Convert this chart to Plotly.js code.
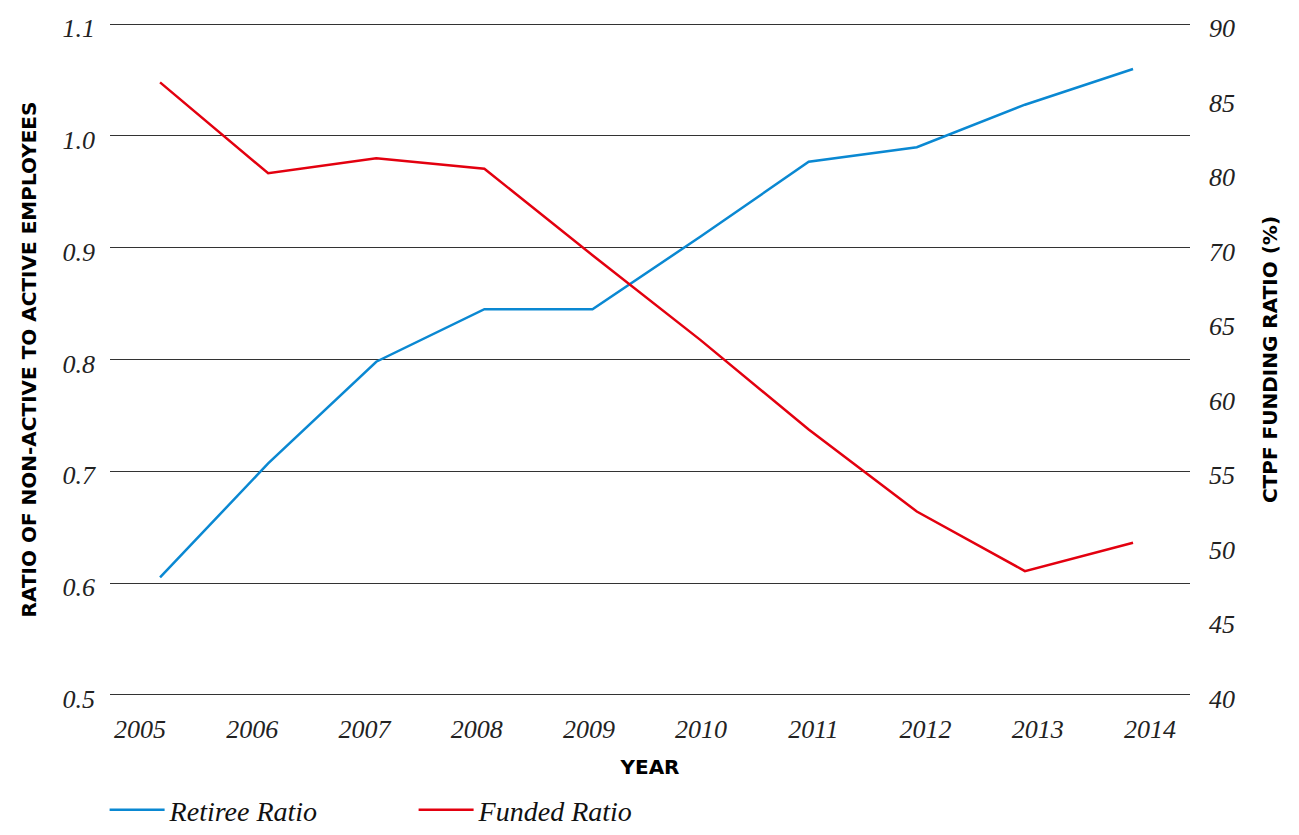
<!DOCTYPE html>
<html>
<head>
<meta charset="utf-8">
<script src="https://cdn.plot.ly/plotly-3.0.1.min.js"></script>
<style>html,body{margin:0;padding:0;background:#fff;}#chart{width:1299px;height:835px;}</style>
</head>
<body>
<div id="chart"></div>
<script>
const years = [2005, 2006, 2007, 2008, 2009, 2010, 2011, 2012, 2013, 2014];
const retireeRatio = [0.605, 0.707, 0.798, 0.845, 0.845, 0.910, 0.977, 0.990, 1.028, 1.060];
// funded ratio in right-axis position units (ticks evenly spaced, as printed)
const fundedRatio = [81.1, 75.0, 76.0, 75.3, 69.5, 63.8, 57.8, 52.3, 48.3, 50.2];
const leftTicks = [0.5, 0.6, 0.7, 0.8, 0.9, 1.0, 1.1];
const rightTickVals = [40, 45, 50, 55, 60, 65, 70, 75, 80, 85];
const rightTickText = ['40', '45', '50', '55', '60', '65', '70', '80', '85', '90'];

const serif = 'Liberation Serif, serif';
const sans = 'DejaVu Sans, sans-serif';

const traces = [
  {x: years, y: retireeRatio, name: 'Retiree Ratio', type: 'scatter', mode: 'lines',
   line: {color: '#0a88d2', width: 2.5}, xaxis: 'x', yaxis: 'y'},
  {x: years, y: fundedRatio, name: 'Funded Ratio', type: 'scatter', mode: 'lines',
   line: {color: '#e3000f', width: 2.5}, xaxis: 'x', yaxis: 'y2'},
  // empty helper trace so the tick-label axis (x2) is drawn
  {x: years, y: years.map(() => null), type: 'scatter', mode: 'lines', showlegend: false,
   hoverinfo: 'skip', xaxis: 'x2', yaxis: 'y'}
];

const tickFont = {family: serif, size: 26, color: '#222', style: 'italic'};
const titleFont = {family: sans, size: 20, color: '#000', weight: 'bold'};

const layout = {
  width: 1299, height: 835,
  margin: {l: 110, r: 109, t: 22, b: 138},
  paper_bgcolor: '#fff', plot_bgcolor: '#fff',
  showlegend: true,
  legend: {orientation: 'h', x: -0.005, xanchor: 'left', yref: 'container', y: 0.03, yanchor: 'middle',
           font: {family: serif, size: 28, color: '#111', style: 'italic'},
           entrywidth: 239, entrywidthmode: 'pixels', itemwidth: 55},
  xaxis: {range: [2004.537, 2014.527], showticklabels: false, showgrid: false,
          zeroline: false, showline: false, ticks: '', fixedrange: true},
  xaxis2: {overlaying: 'x', anchor: 'y', side: 'bottom', range: [2004.733, 2014.356],
           tickvals: years, ticktext: years.map(String), tickfont: tickFont,
           showgrid: false, zeroline: false, showline: false, ticks: '', ticklabelstandoff: 14,
           title: {text: 'YEAR', font: titleFont, standoff: 16}},
  yaxis: {range: [0.498, 1.102], tickvals: leftTicks, tickformat: '.1f', tickfont: tickFont,
          showgrid: true, gridcolor: '#333', gridwidth: 1, zeroline: false, showline: false,
          ticks: '', ticklabelstandoff: 14, ticklabelshift: 4,
          title: {text: 'RATIO OF NON-ACTIVE TO ACTIVE EMPLOYEES', font: titleFont, standoff: 20}},
  yaxis2: {overlaying: 'y', side: 'right', range: [39.85, 85.15], tickvals: rightTickVals,
           ticktext: rightTickText, tickfont: tickFont, showgrid: false, zeroline: false,
           showline: false, ticks: '', ticklabelstandoff: 18, ticklabelshift: 4,
           title: {text: 'CTPF FUNDING RATIO (%)', font: titleFont, standoff: 28}}
};

Plotly.newPlot('chart', traces, layout, {displayModeBar: false, staticPlot: true});
</script>
</body>
</html>
